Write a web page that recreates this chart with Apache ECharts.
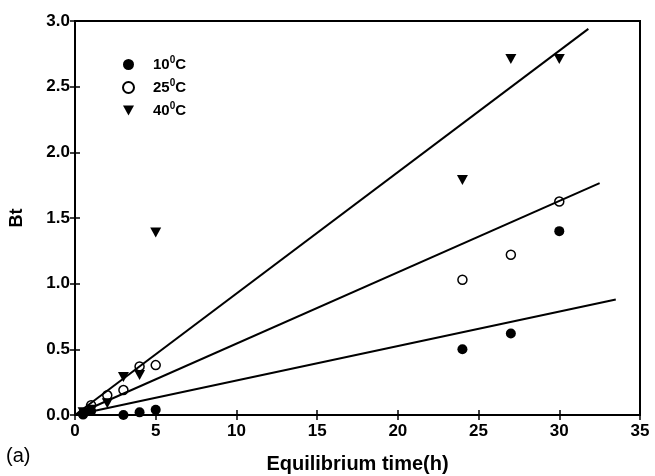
<!DOCTYPE html>
<html>
<head>
<meta charset="utf-8">
<script src="https://cdn.jsdelivr.net/npm/echarts@6/dist/echarts.min.js"></script>
<style>
html,body{margin:0;padding:0;background:#fff;}
#chart{width:655px;height:476px;}
</style>
</head>
<body>
<div id="chart"></div>
<script>
// ---- data ----
const tempLabels = ['10', '25', '40'];
const data10 = [[0.5, 0.01], [1, 0.03], [3, 0.0], [4, 0.02], [5, 0.04], [24, 0.50], [27, 0.62], [30, 1.40]];
const data25 = [[0.5, 0.005], [1, 0.075], [2, 0.15], [3, 0.19], [4, 0.37], [5, 0.38], [24, 1.03], [27, 1.22], [30, 1.625]];
const data40 = [[0.5, 0.02], [1, 0.04], [2, 0.09], [3, 0.29], [4, 0.305], [5, 1.39], [24, 1.79], [27, 2.71], [30, 2.71]];
// fitted straight lines (end points)
const fit10 = [[0, 0], [33.5, 0.88]];
const fit25 = [[0, 0], [32.5, 1.765]];
const fit40 = [[0, 0], [31.8, 2.94]];
const xTickLabels = ['0', '5', '10', '15', '20', '25', '30', '35'];
const yTickLabels = ['0.0', '0.5', '1.0', '1.5', '2.0', '2.5', '3.0'];
const xTitle = 'Equilibrium time(h)';
const yTitle = 'Bt';
const panelLabel = '(a)';

const FONT = '"Liberation Sans", Arial, Helvetica, sans-serif';
const names = tempLabels.map(t => t + '°C');
const downTriangle = 'path://M0,0 L10,0 L5,9 Z';

const chart = echarts.init(document.getElementById('chart'), null, {renderer: 'canvas'});

const tickStyle = {show: true, inside: true, length: 5, lineStyle: {color: '#000', width: 1.5}};
const lineAxis = {show: true, lineStyle: {color: '#000', width: 2}};

const option = {
  backgroundColor: '#fff',
  animation: false,
  grid: {
    left: 75, right: 15, top: 21, bottom: 61,
    containLabel: false, outerBoundsMode: 'none',
    show: true, borderColor: '#000', borderWidth: 2, backgroundColor: 'transparent'
  },
  legend: {
    orient: 'vertical',
    left: 122,
    top: 55,
    padding: 0,
    itemWidth: 11,
    itemHeight: 11,
    itemGap: 4,
    data: [
      {name: names[0], icon: 'circle'},
      {name: names[1], icon: 'circle'},
      {name: names[2], icon: downTriangle}
    ],
    formatter: function (name) {
      return '{n|' + name.replace('°C', '') + '}{s|0}{n|C}';
    },
    textStyle: {
      padding: [0, 0, 0, 14],
      lineHeight: 19,
      rich: {
        n: {fontFamily: FONT, fontSize: 15, fontWeight: 'bold', color: '#000', lineHeight: 19},
        s: {fontFamily: FONT, fontSize: 10, fontWeight: 'bold', color: '#000', padding: [0, 0, 9, 0], lineHeight: 19}
      }
    }
  },
  xAxis: [{
    type: 'value', min: 0, max: 35, interval: 5, position: 'bottom',
    axisLine: lineAxis, axisTick: tickStyle, splitLine: {show: false},
    axisLabel: {
      margin: 8, color: '#000', fontFamily: FONT, fontSize: 17, fontWeight: 'bold',
      formatter: v => xTickLabels[Math.round(v / 5)]
    },
    name: xTitle, nameLocation: 'middle', nameGap: 39,
    nameTextStyle: {color: '#000', fontFamily: FONT, fontSize: 20, fontWeight: 'bold'}
  }, {
    type: 'value', min: 0, max: 35, interval: 5, position: 'top',
    axisLine: lineAxis, axisTick: tickStyle, splitLine: {show: false}, axisLabel: {show: false}
  }],
  yAxis: [{
    type: 'value', min: 0, max: 3, interval: 0.5, position: 'left',
    axisLine: lineAxis, axisTick: tickStyle, splitLine: {show: false},
    axisLabel: {
      margin: 5, color: '#000', fontFamily: FONT, fontSize: 17, fontWeight: 'bold',
      formatter: v => yTickLabels[Math.round(v / 0.5)]
    },
    name: yTitle, nameLocation: 'middle', nameGap: 49, nameRotate: 90,
    nameTextStyle: {color: '#000', fontFamily: FONT, fontSize: 18, fontWeight: 'bold'}
  }, {
    type: 'value', min: 0, max: 3, interval: 0.5, position: 'right',
    axisLine: lineAxis, axisTick: tickStyle, splitLine: {show: false}, axisLabel: {show: false}
  }],
  graphic: [{
    type: 'text', left: 6, top: 446,
    style: {text: panelLabel, fontFamily: FONT, fontSize: 20, fill: '#000'}
  }],
  series: [
    {
      name: names[0], type: 'scatter', data: data10, clip: false, z: 3,
      symbol: 'circle', symbolSize: 10,
      itemStyle: {color: '#000', borderColor: '#000', borderWidth: 0, opacity: 1}
    },
    {
      name: names[1], type: 'scatter', data: data25, clip: false, z: 3,
      symbol: 'circle', symbolSize: 9,
      itemStyle: {color: 'rgba(255,255,255,0)', borderColor: '#000', borderWidth: 1.5, opacity: 1}
    },
    {
      name: names[2], type: 'scatter', data: data40, clip: false, z: 3,
      symbol: 'triangle', symbolRotate: 180, symbolSize: [11, 10],
      itemStyle: {color: '#000', borderColor: '#000', borderWidth: 0, opacity: 1}
    },
    {type: 'line', data: fit10, showSymbol: false, symbol: 'none', z: 4, lineStyle: {color: '#000', width: 2}},
    {type: 'line', data: fit25, showSymbol: false, symbol: 'none', z: 4, lineStyle: {color: '#000', width: 2}},
    {type: 'line', data: fit40, showSymbol: false, symbol: 'none', z: 4, lineStyle: {color: '#000', width: 2}}
  ]
};
chart.setOption(option);
</script>
</body>
</html>
